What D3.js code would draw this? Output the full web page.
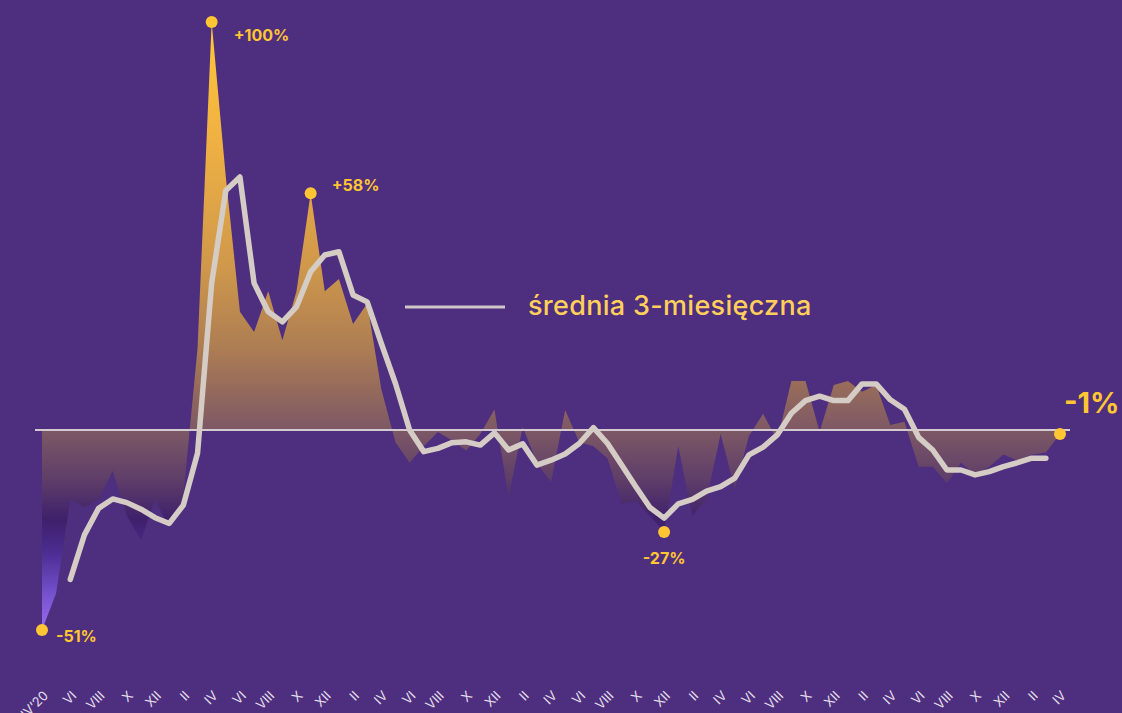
<!DOCTYPE html>
<html>
<head>
<meta charset="utf-8">
<script src="https://cdn.jsdelivr.net/npm/d3@7"></script>
<style>
  body { margin: 0; background: #4e2e7e; }
  svg { display: block; font-family: Inter, "Noto Sans", sans-serif; }
</style>
</head>
<body>
<div id="container"></div>
<script>
// monthly change, IV'20 .. IV'26 (index 0..72)
var monthly = [-49, -40, -17, -19, -17, -10, -21, -27, -17, -24, -16, 20,
               100, 62, 29, 24, 34, 22, 34, 58, 34, 37, 26, 31,
               10, -3, -8, -4, -0.5, -2.6, -5, -1, 5, -16.5, 0.8, -8,
               -12.8, 4.9, -3, -4, -7, -18, -17.4, -21, -25, -4, -21, -17,
               -1, -14.5, -1.5, 4, -2.5, 12, 12, -0.4, 11, 12, 9.4, 11,
               1.2, 2, -9, -9, -13, -8, -11, -9, -6, -7.5, -6, -5.5,
               -1];

// 3-month average, starts at index 2
var avgStart = 2;
var average = [-36.6, -25.7, -19.2, -16.9, -17.8, -19.4, -21.5, -22.9, -18.4, -5.7,
               36, 58.7, 62, 36, 29, 26.5, 30.2, 38.8, 42.9, 43.7,
               33.1, 31.4, 21.2, 11.4, 0, -5.3, -4.5, -3.1, -2.9, -3.7,
               -0.7, -4.9, -3.4, -8.6, -7.4, -5.9, -3.3, 0.6, -3.3, -8.6,
               -13.9, -19, -21.6, -18.1, -17, -15, -13.9, -11.8, -6.1, -4.2,
               -1.2, 4.1, 7.2, 8.3, 7.2, 7.2, 11.3, 11.3, 7.4, 5.1,
               -1.8, -4.9, -9.8, -9.8, -11, -10.2, -9, -8, -6.9, -6.9];

var tickLabels = ["IV\u201920", "VI", "VIII", "X", "XII",
                  "II", "IV", "VI", "VIII", "X", "XII",
                  "II", "IV", "VI", "VIII", "X", "XII",
                  "II", "IV", "VI", "VIII", "X", "XII",
                  "II", "IV", "VI", "VIII", "X", "XII",
                  "II", "IV", "VI", "VIII", "X", "XII",
                  "II", "IV"];

var highlightIdx = [0, 12, 19, 44, 72];
var highlightText = ["-51%", "+100%", "+58%", "-27%", "-1%"];

var legendText = "średnia 3-miesięczna";

var width = 1122, height = 713;

var svg = d3.select("#container").append("svg")
            .attr("width", width).attr("height", height);

svg.append("rect").attr("width", width).attr("height", height).attr("fill", "#4e2e7e");

var x = d3.scaleLinear().domain([0, 72]).range([42, 1060]);
var y = d3.scaleLinear().domain([0, 100]).range([430, 22]);

// vertical gradient for the area
var grad = svg.append("defs").append("linearGradient")
              .attr("id", "areaGrad")
              .attr("gradientUnits", "userSpaceOnUse")
              .attr("x1", 0).attr("x2", 0)
              .attr("y1", y(100)).attr("y2", y(-50));
var stops = [[100, "#ffc838"], [70, "#eeb043"], [40, "#cf984b"], [20, "#ad7d53"],
             [0, "#7d5865"], [-12, "#5f3e69"], [-22, "#3e206b"], [-30, "#4d2c92"],
             [-40, "#7550cc"], [-50, "#9e70f6"]];
grad.selectAll("stop").data(stops).enter().append("stop")
    .attr("offset", function(d){ return (y(d[0]) - y(100)) / (y(-50) - y(100)); })
    .attr("stop-color", function(d){ return d[1]; });

var area = d3.area()
             .x(function(d, i){ return x(i); })
             .y0(y(0))
             .y1(function(d){ return y(d); });

svg.append("path")
   .datum(monthly)
   .attr("d", area)
   .attr("fill", "url(#areaGrad)");

// zero line
svg.append("line")
   .attr("x1", 35).attr("x2", 1070)
   .attr("y1", y(0)).attr("y2", y(0))
   .attr("stroke", "#d3cbcf").attr("stroke-width", 2);

// 3-month average line
var line = d3.line()
             .x(function(d, i){ return x(i + avgStart); })
             .y(function(d){ return y(d); });

svg.append("path")
   .datum(average)
   .attr("d", line)
   .attr("fill", "none")
   .attr("stroke", "#d5ccc6")
   .attr("stroke-width", 5.5)
   .attr("stroke-linejoin", "round")
   .attr("stroke-linecap", "round");

// legend
svg.append("line")
   .attr("x1", 405).attr("x2", 505).attr("y1", 307).attr("y2", 307)
   .attr("stroke", "#cfc6c8").attr("stroke-width", 3);
svg.append("text")
   .attr("x", 528).attr("y", 315)
   .attr("fill", "#ffcf5c")
   .attr("font-size", 27)
   .attr("font-weight", 500)
   .attr("letter-spacing", 0.3)
   .text(legendText);

// highlight dots and labels
var offsets = [[14, 12, "start", 16], [22, 19, "start", 16], [21, -2, "start", 16],
               [0, 32, "middle", 16], [4, -21, "start", 29]];

svg.append("g").selectAll("circle")
   .data(highlightIdx).enter().append("circle")
   .attr("cx", function(d){ return x(d); })
   .attr("cy", function(d){ return y(monthly[d]); })
   .attr("r", 6)
   .attr("fill", "#ffc533");

svg.append("g").selectAll("text")
   .data(highlightIdx).enter().append("text")
   .attr("x", function(d, i){ return x(d) + offsets[i][0]; })
   .attr("y", function(d, i){ return y(monthly[d]) + offsets[i][1]; })
   .attr("text-anchor", function(d, i){ return offsets[i][2]; })
   .attr("font-size", function(d, i){ return offsets[i][3]; })
   .attr("font-weight", "bold")
   .attr("fill", "#ffc533")
   .text(function(d, i){ return highlightText[i]; });

// x axis, a label every two months
var axis = d3.axisBottom(x)
             .tickValues(d3.range(0, 73, 2))
             .tickFormat(function(d, i){ return tickLabels[i]; })
             .tickSize(0);

var gx = svg.append("g")
            .attr("transform", "translate(0,690)")
            .call(axis);
gx.select(".domain").remove();
gx.selectAll("text")
  .attr("x", 0).attr("y", 0).attr("dy", "0.7em")
  .attr("transform", "rotate(-45)")
  .attr("text-anchor", "end")
  .attr("fill", "#e8e0ee")
  .attr("font-size", 13)
  .attr("font-family", "Inter, sans-serif");
</script>
</body>
</html>
